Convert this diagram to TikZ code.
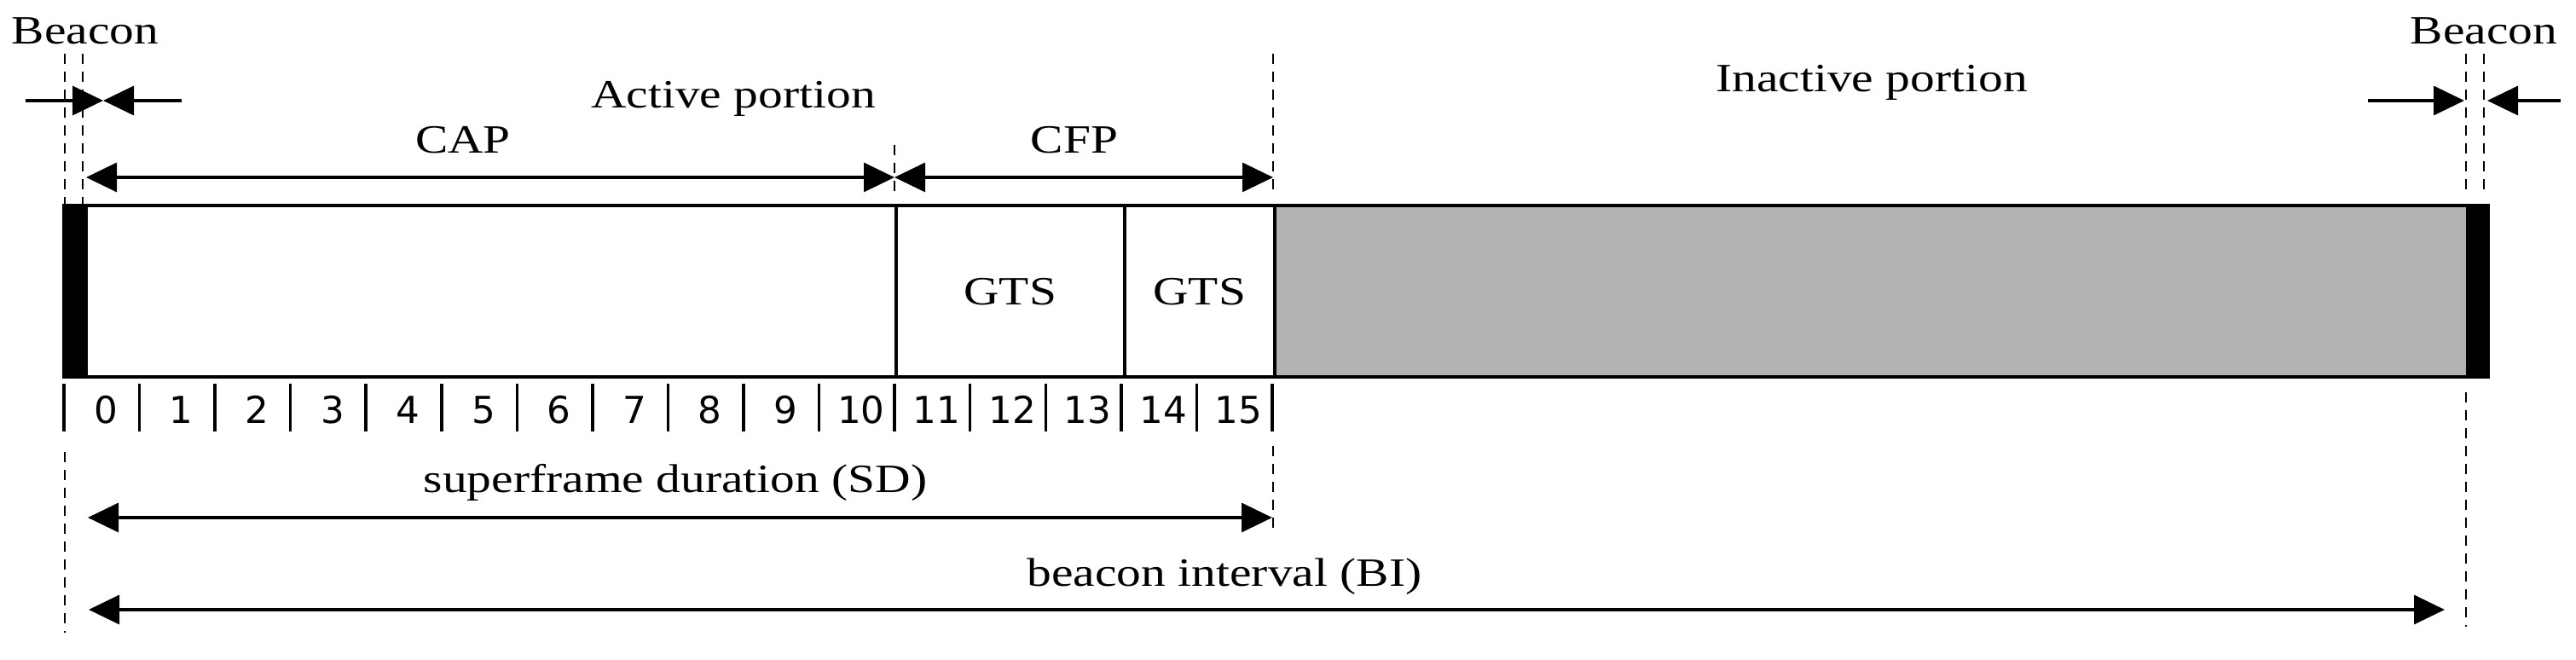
\documentclass[tikz,border=0pt]{standalone}
\usepackage{fontspec}
\setmainfont[FakeStretch=1.22]{Liberation Serif}
\newfontfamily\digitfont{DejaVu Sans}
\usetikzlibrary{arrows.meta, positioning}
\tikzstyle{slotbox} = [rectangle, draw=black, line width=1pt, minimum height=2.01cm, inner sep=0pt, anchor=south west, font=\fontsize{13.4}{16}\selectfont]
\tikzstyle{tagtext} = [inner sep=0pt, anchor=base, font=\fontsize{13.4}{16}\selectfont]
\tikzstyle{numtext} = [inner sep=0pt, anchor=base, font=\digitfont\fontsize{12.4}{15}\selectfont]
\tikzstyle{tick} = [line width=1pt]
\tikzstyle{guide} = [line width=0.8pt, dash pattern=on 1.2mm off 0.9mm]
\tikzstyle{dimarrow} = [line width=1pt,<->,>={Triangle[length=3.6mm,width=3.4mm]}]
\tikzstyle{onearrow} = [line width=1pt,->,>={Triangle[length=3.6mm,width=3.4mm]}]

\begin{document}
\begin{tikzpicture}
\useasboundingbox (0,0) rectangle (30.21,7.74);
% superframe slots
\node[slotbox, fill=black, minimum width=0.26cm] (bcnL) at (0.73,3.30) {};
\node[slotbox, minimum width=9.50cm] (cap) at (0.99,3.30) {};
\node[slotbox, minimum width=2.68cm] (gts1) at (10.49,3.30) {GTS};
\node[slotbox, minimum width=1.76cm] (gts2) at (13.17,3.30) {GTS};
\node[slotbox, fill=black!30, minimum width=13.99cm] (inact) at (14.93,3.30) {};
\node[slotbox, fill=black, minimum width=0.24cm] (bcnR) at (28.92,3.30) {};

% slot numbers
\foreach \i in {0,...,16}
    \draw[tick] ({0.75+0.8856*\i},3.24) -- ({0.75+0.8856*\i},2.68);
\foreach \i in {0,...,15}
    \node[numtext] (n\i) at ({0.80+0.8856*(\i+0.5)},2.77) {\i};

% guide lines
\draw[guide] (0.76,7.11) -- (0.76,5.31);
\draw[guide] (0.97,7.11) -- (0.97,5.31);
\draw[guide] (0.76,2.44) -- (0.76,0.32);
\draw[guide] (10.49,6.04) -- (10.49,5.44);
\draw[guide] (14.93,7.11) -- (14.93,5.44);
\draw[guide] (14.93,2.51) -- (14.93,1.46);
\draw[guide] (28.92,7.11) -- (28.92,5.44);
\draw[guide] (29.13,7.11) -- (29.13,5.44);
\draw[guide] (28.92,3.14) -- (28.92,0.39);

% labels
\node[tagtext] (beaconL) at (1.00,7.22) {Beacon};
\node[tagtext] (beaconR) at (29.13,7.22) {Beacon};
\node[tagtext] (active) at (8.60,6.47) {Active portion};
\node[tagtext] (inactive) at (21.95,6.66) {Inactive portion};
\node[tagtext] (captext) at (5.43,5.94) {CAP};
\node[tagtext] (cfptext) at (12.60,5.94) {CFP};
\node[tagtext] (sdtext) at (7.92,1.96) {superframe duration (SD)};
\node[tagtext] (bitext) at (14.36,0.86) {beacon interval (BI)};

% arrows
\coordinate (bl1) at (0.30,6.56);
\coordinate (blmid) at (1.21,6.56);
\coordinate (bl2) at (2.13,6.56);
\coordinate (br1) at (27.77,6.56);
\coordinate (br1tip) at (28.90,6.56);
\coordinate (br2tip) at (29.17,6.56);
\coordinate (br2) at (30.03,6.56);
\coordinate (capL) at (1.01,5.66);
\coordinate (capR) at (10.49,5.66);
\coordinate (cfpR) at (14.93,5.66);
\coordinate (sdL) at (1.03,1.67);
\coordinate (sdR) at (14.92,1.67);
\coordinate (biL) at (1.04,0.59);
\coordinate (biR) at (28.67,0.59);

\draw[onearrow] (bl1) -- (blmid);
\draw[onearrow] (bl2) -- (blmid);
\draw[onearrow] (br1) -- (br1tip);
\draw[onearrow] (br2) -- (br2tip);
\draw[dimarrow] (capL) -- (capR);
\draw[dimarrow] (capR) -- (cfpR);
\draw[dimarrow] (sdL) -- (sdR);
\draw[dimarrow] (biL) -- (biR);
\end{tikzpicture}
\end{document}
